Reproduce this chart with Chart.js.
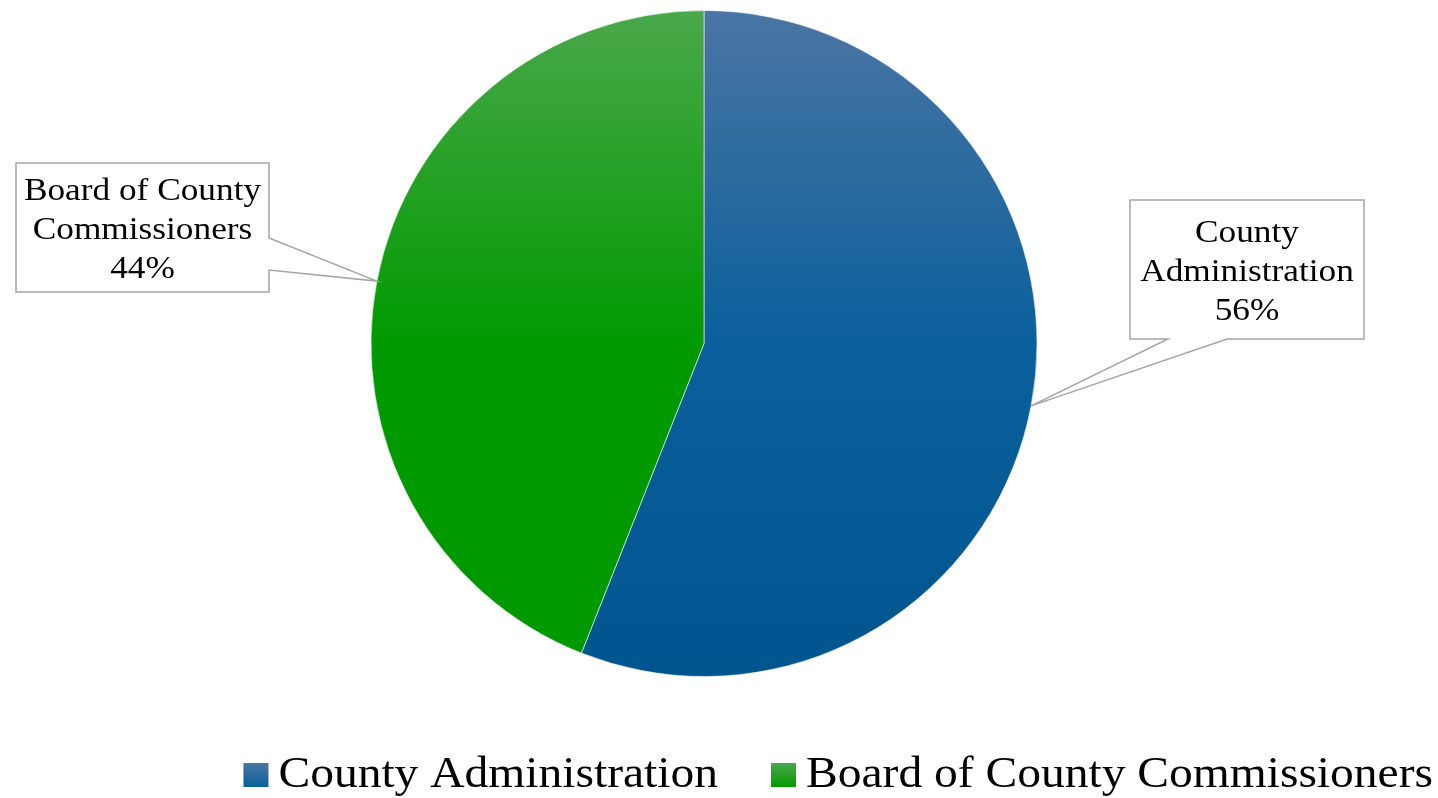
<!DOCTYPE html>
<html>
<head>
<meta charset="utf-8">
<title>County Administration vs Board of County Commissioners</title>
<script src="https://cdn.jsdelivr.net/npm/chart.js@4/dist/chart.umd.min.js"></script>
<style>
  html, body { margin: 0; padding: 0; background: #ffffff; }
  #wrap { width: 1438px; height: 798px; position: relative; }
</style>
</head>
<body>
<div id="wrap"><canvas id="c" width="1438" height="798"></canvas></div>
<script>
// Categories and their shares (percent)
const categories = ['County Administration', 'Board of County Commissioners'];
const shares = [56, 44];

// Slice fills: light at the top of the pie, solid from the middle down
const fillTop = ['#4a75a3', '#4aa84a'];
const fillMid = ['#0a609c', '#009a00'];
const fillBottom = ['#00558f', '#009900'];

const serif = '"Liberation Serif", "Times New Roman", serif';

function sliceGradient(ctx, i, y0, y1) {
  const g = ctx.createLinearGradient(0, y0, 0, y1);
  g.addColorStop(0, fillTop[i]);
  g.addColorStop(0.5, fillMid[i]);
  g.addColorStop(1, fillBottom[i]);
  return g;
}

// Callout boxes beside each slice: box rectangle plus where the pointer leaves it
const callouts = [
  { box: [1130, 200, 234, 139], side: 'bottom', a: 1168, b: 1227, lines: [242, 281, 320] },
  { box: [16, 163, 253, 129], side: 'right', a: 238, b: 270, lines: [200, 239, 278] }
];

function wrapWords(ctx, text, maxW, sx) {
  const words = text.split(' ');
  const out = [];
  let cur = '';
  for (const w of words) {
    const trial = cur ? cur + ' ' + w : w;
    if (cur && ctx.measureText(trial).width * sx > maxW) {
      out.push(cur);
      cur = w;
    } else {
      cur = trial;
    }
  }
  if (cur) out.push(cur);
  return out;
}

function drawStretched(ctx, text, x, y, sx) {
  ctx.save();
  ctx.translate(x, y);
  ctx.scale(sx, 1);
  ctx.fillText(text, 0, 0);
  ctx.restore();
}

const calloutPlugin = {
  id: 'sliceCallouts',
  afterDatasetsDraw(chart) {
    const ctx = chart.ctx;
    const meta = chart.getDatasetMeta(0);
    const sx = 1.12;
    meta.data.forEach((arc, i) => {
      const c = callouts[i];
      if (!c) return;
      const p = arc.getProps(['x', 'y', 'startAngle', 'endAngle', 'outerRadius'], true);
      const mid = (p.startAngle + p.endAngle) / 2;
      const tx = p.x + Math.cos(mid) * p.outerRadius;
      const ty = p.y + Math.sin(mid) * p.outerRadius;
      const [L, T, W, H] = c.box;
      const R = L + W, B = T + H;

      ctx.save();
      ctx.beginPath();
      ctx.moveTo(L, T);
      ctx.lineTo(R, T);
      if (c.side === 'right') {
        ctx.lineTo(R, c.a);
        ctx.lineTo(tx, ty);
        ctx.lineTo(R, c.b);
        ctx.lineTo(R, B);
        ctx.lineTo(L, B);
      } else {
        ctx.lineTo(R, B);
        ctx.lineTo(c.b, B);
        ctx.lineTo(tx, ty);
        ctx.lineTo(c.a, B);
        ctx.lineTo(L, B);
      }
      ctx.closePath();
      ctx.fillStyle = '#ffffff';
      ctx.fill();
      ctx.lineWidth = 1.5;
      ctx.strokeStyle = '#a5a5a5';
      ctx.stroke();

      ctx.font = '31.5px ' + serif;
      ctx.fillStyle = '#000000';
      ctx.textAlign = 'center';
      ctx.textBaseline = 'alphabetic';
      const label = chart.data.labels[i];
      const value = chart.data.datasets[0].data[i];
      const rows = wrapWords(ctx, label, W - 12, sx);
      rows.push(value + '%');
      const cx = L + W / 2;
      rows.forEach((r, k) => {
        const y = c.lines[k] !== undefined ? c.lines[k] : c.lines[c.lines.length - 1] + 39 * (k - c.lines.length + 1);
        drawStretched(ctx, r, cx, y, sx);
      });
      ctx.restore();
    });
  }
};

// Legend row along the bottom right
const legendPlugin = {
  id: 'bottomLegend',
  afterDraw(chart) {
    const ctx = chart.ctx;
    const sx = 1.08;
    const box = 25, boxH = 24, gapText = 10, gapItem = 53;
    const rightEdge = 1433, baseY = 787;
    ctx.save();
    ctx.font = '44px ' + serif;
    ctx.textAlign = 'left';
    ctx.textBaseline = 'alphabetic';
    const widths = chart.data.labels.map(t => ctx.measureText(t).width * sx);
    let x = rightEdge;
    const pos = [];
    for (let i = widths.length - 1; i >= 0; i--) {
      const textX = x - widths[i];
      const boxX = textX - gapText - box;
      pos[i] = { textX, boxX };
      x = boxX - gapItem;
    }
    pos.forEach((q, i) => {
      ctx.fillStyle = sliceGradient(ctx, i, baseY - boxH, baseY + boxH);
      ctx.fillRect(q.boxX, baseY - boxH, box, boxH);
      ctx.fillStyle = '#000000';
      drawStretched(ctx, chart.data.labels[i], q.textX, baseY, sx);
    });
    ctx.restore();
  }
};

new Chart(document.getElementById('c'), {
  type: 'pie',
  data: {
    labels: categories,
    datasets: [{
      data: shares,
      backgroundColor: (context) => {
        const chart = context.chart;
        const area = chart.chartArea;
        const i = context.dataIndex;
        if (!area) return fillBottom[i];
        return sliceGradient(chart.ctx, i, area.top, area.bottom);
      },
      borderColor: 'rgba(255,255,255,0.55)',
      borderWidth: 1
    }]
  },
  options: {
    responsive: false,
    devicePixelRatio: 1,
    animation: false,
    layout: { padding: { top: 10, bottom: 121, left: 0, right: 30 } },
    plugins: {
      legend: { display: false },
      tooltip: { enabled: false }
    }
  },
  plugins: [calloutPlugin, legendPlugin]
});
</script>
</body>
</html>
